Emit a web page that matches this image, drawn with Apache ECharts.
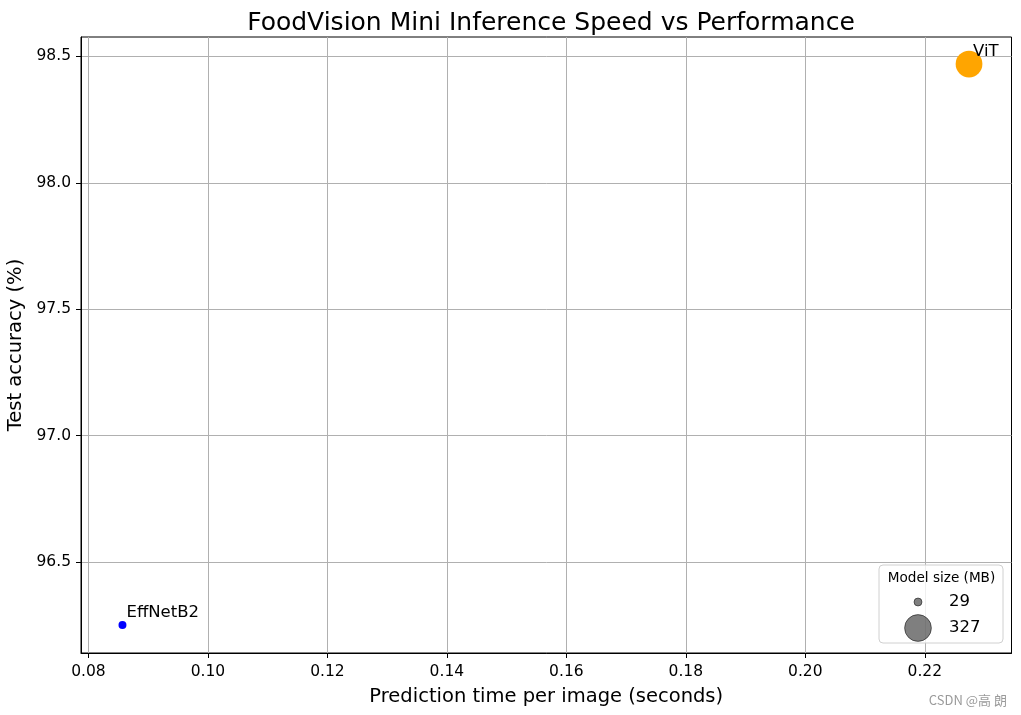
<!DOCTYPE html>
<html><head><meta charset="utf-8">
<script src="https://cdn.jsdelivr.net/npm/echarts@6/dist/echarts.min.js"></script>
<style>html,body{margin:0;padding:0;background:#fff}#c{width:1021px;height:715px}</style>
</head><body><div id="c"></div>
<script>
const models = ['EffNetB2', 'ViT'];
const predTimes = [0.0857, 0.2274];
const testAcc = [96.251, 98.470];
const modelSizes = [29, 327];
const pointColors = ['#0000ff', '#ffa500'];
const xTicks = [0.08, 0.10, 0.12, 0.14, 0.16, 0.18, 0.20, 0.22];
const yTicks = [96.5, 97.0, 97.5, 98.0, 98.5];
const legendSizes = [29, 327];
const xRange = [0.07876, 0.23451];
const yRange = [96.140, 98.577];

const FONT = 'DejaVu Sans';
const sizeFn = mb => 1.48 * Math.sqrt(mb);

const chart = echarts.init(document.getElementById('c'), null, {renderer: 'canvas'});

const data = models.map((m, i) => {
  const s = sizeFn(modelSizes[i]);
  return {
    name: m,
    value: [predTimes[i], testAcc[i], modelSizes[i]],
    symbolSize: s,
    itemStyle: {color: pointColors[i], opacity: 1},
    label: {
      show: true, formatter: m, position: [s / 2 + 4, s / 2 - 4],
      align: 'left', verticalAlign: 'bottom', color: '#000',
      fontFamily: FONT, fontSize: 16.5
    }
  };
});

const lg = {x: 879, y: 565, w: 124, h: 78};
const graphics = [
  {type: 'rect', shape: {x: lg.x, y: lg.y, width: lg.w, height: lg.h, r: 4},
   style: {fill: 'rgba(255,255,255,0.8)', stroke: '#d0d0d0', lineWidth: 1}, z: 100},
  {type: 'text', x: lg.x + lg.w / 2 + 0.5, y: 578, z: 101,
   style: {text: 'Model size (MB)', font: '13.6px "DejaVu Sans"', fill: '#000', align: 'center', verticalAlign: 'middle'}}
];
const rowY = [602, 628];
legendSizes.forEach((mb, i) => {
  graphics.push({type: 'circle', z: 101, shape: {cx: 918, cy: rowY[i], r: sizeFn(mb) / 2},
    style: {fill: 'rgba(0,0,0,0.5)', stroke: 'rgba(0,0,0,0.5)', lineWidth: 1}});
  graphics.push({type: 'text', z: 101, x: 949, y: rowY[i],
    style: {text: String(mb), font: '16.5px "DejaVu Sans"', fill: '#000', align: 'left', verticalAlign: 'middle'}});
});
graphics.push({type: 'text', x: 1007, y: 700,
  style: {text: 'CSDN @高 朗', font: '13px "Noto Sans CJK SC"', fill: '#9a9a9a', align: 'right', verticalAlign: 'middle'}});

const option = {
  animation: false,
  backgroundColor: '#fff',
  title: {
    text: 'FoodVision Mini Inference Speed vs Performance',
    left: 546, top: 6, textAlign: 'center',
    textStyle: {fontFamily: FONT, fontSize: 25, fontWeight: 'normal', color: '#000'}
  },
  grid: {left: 81, right: 9.5, top: 37, bottom: 62, show: true, borderColor: '#000', borderWidth: 1,
    backgroundColor: 'transparent', containLabel: false, outerBoundsMode: 'none'},
  xAxis: {
    type: 'value', min: xRange[0], max: xRange[1],
    name: 'Prediction time per image (seconds)', nameLocation: 'middle', nameGap: 34,
    nameTextStyle: {fontFamily: FONT, fontSize: 19.5, color: '#000'},
    axisLine: {show: true, onZero: false, lineStyle: {color: '#000', width: 1}},
    axisTick: {show: true, length: 5, lineStyle: {color: '#000'}, customValues: xTicks},
    axisLabel: {customValues: xTicks, formatter: v => v.toFixed(2), fontFamily: FONT, fontSize: 15.5, color: '#000', margin: 11},
    splitLine: {show: true, lineStyle: {color: '#b0b0b0', width: 1}}
  },
  yAxis: {
    type: 'value', min: yRange[0], max: yRange[1],
    name: 'Test accuracy (%)', nameLocation: 'middle', nameGap: 52, nameRotate: 90,
    nameTextStyle: {fontFamily: FONT, fontSize: 19.5, color: '#000'},
    axisLine: {show: true, onZero: false, lineStyle: {color: '#000', width: 1}},
    axisTick: {show: true, length: 5, lineStyle: {color: '#000'}, customValues: yTicks},
    axisLabel: {customValues: yTicks, formatter: v => v.toFixed(1), fontFamily: FONT, fontSize: 15.5, color: '#000', margin: 10},
    splitLine: {show: true, lineStyle: {color: '#b0b0b0', width: 1}}
  },
  series: [{
    type: 'scatter', data: data, z: 5,
    emphasis: {disabled: true}
  }],
  graphic: graphics
};
chart.setOption(option);
</script>
</body></html>
